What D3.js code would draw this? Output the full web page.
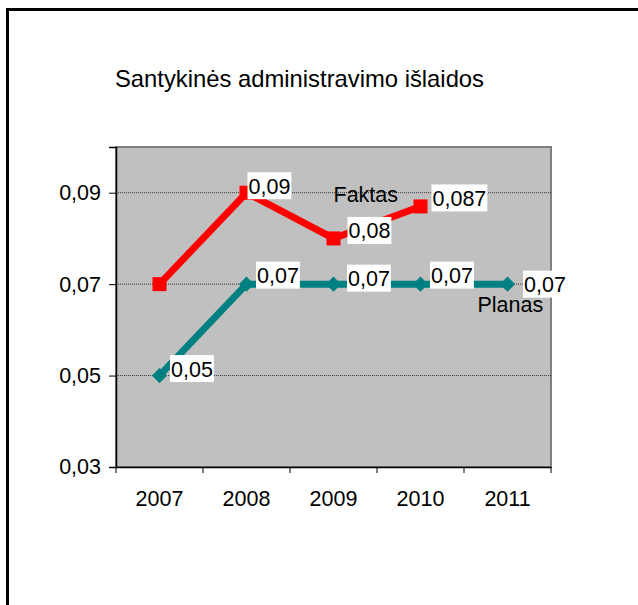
<!DOCTYPE html>
<html><head><meta charset="utf-8">
<script src="https://cdn.jsdelivr.net/npm/d3@7/dist/d3.min.js"></script>
<style>
html,body{margin:0;padding:0;background:#fff;overflow:hidden}
text{font-family:Arial,"Liberation Sans",sans-serif;fill:#000}
</style></head>
<body>
<svg id="c" width="638" height="605"></svg>
<script>
const title = "Santykinės administravimo išlaidos";
const years = ["2007","2008","2009","2010","2011"];
const faktas = [0.07, 0.09, 0.08, 0.087, null];
const planas = [0.05, 0.07, 0.07, 0.07, 0.07];
const faktasLabels = [null, "0,09", "0,08", "0,087", null];
const planasLabels = ["0,05", "0,07", "0,07", "0,07", "0,07"];
const yTicks = [0.03, 0.05, 0.07, 0.09];
const yTickLabels = ["0,03", "0,05", "0,07", "0,09"];
const seriesNames = ["Faktas", "Planas"];

// layout nudges for labels (dx from point to box left, dy of box centre)
const faktasNudge = [null, [1,-7], [14,-8], [11,-8.5], null];
const planasNudge = [[10.5,-7],[9.5,-9],[13.5,-6],[9.5,-9],[15.5,0]];

const svg = d3.select("#c");
const fs = 21.5;
const FF = "Arial, 'Liberation Sans', sans-serif";

// outer frame
svg.append("rect").attr("x",7.5).attr("y",9.5).attr("width",800).attr("height",800)
  .attr("fill","none").attr("stroke","#000").attr("stroke-width",3);

const L=116, R=551, T=147, B=467;
const x = d3.scaleBand().domain(years).range([L,R]);
const y = d3.scaleLinear().domain([0.03,0.10]).range([B,T]);
const cx = d => x(d)+x.bandwidth()/2;

// title
svg.append("text").attr("x",115).attr("y",87).attr("font-size",23.8).text(title);

// plot area
svg.append("rect").attr("x",L).attr("y",T).attr("width",R-L).attr("height",B-T)
  .attr("fill","#C0C0C0").attr("stroke","#808080").attr("stroke-width",2);

// gridlines
svg.append("g").selectAll("line").data(yTicks.filter(v=>v>0.03)).join("line")
  .attr("x1",L).attr("x2",R).attr("y1",d=>y(d)).attr("y2",d=>y(d))
  .attr("stroke","#333").attr("stroke-width",1).attr("stroke-dasharray","1,1");

// y axis
const yAxis = d3.axisLeft(y).tickValues(yTicks).tickSize(7).tickPadding(8)
  .tickFormat((d,i)=>yTickLabels[i]);
const gy = svg.append("g").attr("transform",`translate(${L},0)`).call(yAxis);
gy.select(".domain").attr("stroke","#000").attr("stroke-width",1.5);
gy.selectAll(".tick line").attr("stroke","#000");
gy.selectAll(".tick text").attr("font-size",fs).attr("font-family",FF).attr("fill","#000");

// x axis
const xAxis = d3.axisBottom(x).tickSize(0).tickPadding(24);
const gx = svg.append("g").attr("transform",`translate(0,${B})`).call(xAxis);
gx.select(".domain").attr("stroke","#000").attr("stroke-width",1.5);
gx.selectAll(".tick text").attr("font-size",fs).attr("font-family",FF).attr("fill","#000");
// category boundary ticks
const bounds = years.map(d=>x(d)).concat([R]);
svg.append("g").selectAll("line").data(bounds).join("line")
  .attr("x1",d=>d).attr("x2",d=>d).attr("y1",B).attr("y2",B+6)
  .attr("stroke","#000").attr("stroke-width",1);

// lines
const line = d3.line().defined(d=>d.v!=null).x(d=>cx(d.k)).y(d=>y(d.v));
const fData = years.map((k,i)=>({k,v:faktas[i]}));
const pData = years.map((k,i)=>({k,v:planas[i]}));

svg.append("path").datum(pData).attr("d",line).attr("fill","none")
  .attr("stroke","#008080").attr("stroke-width",7).attr("stroke-linejoin","miter");
svg.append("path").datum(fData).attr("d",line).attr("fill","none")
  .attr("stroke","#FF0000").attr("stroke-width",7).attr("stroke-linejoin","miter");

// markers
svg.append("g").selectAll("path").data(pData.filter(d=>d.v!=null)).join("path")
  .attr("d",d3.symbol(d3.symbolSquare,115))
  .attr("transform",d=>`translate(${cx(d.k)},${y(d.v)}) rotate(45)`)
  .attr("fill","#008080");
svg.append("g").selectAll("rect").data(fData.filter(d=>d.v!=null)).join("rect")
  .attr("x",d=>cx(d.k)-7).attr("y",d=>y(d.v)-7).attr("width",14).attr("height",14)
  .attr("fill","#FF0000");

// data labels
function labels(data, texts, nudge){
  data.forEach((d,i)=>{
    if(texts[i]==null) return;
    const px=cx(d.k), py=y(d.v);
    const g=svg.append("g");
    const t=g.append("text").attr("font-size",fs).attr("dominant-baseline","central")
      .attr("x",px+nudge[i][0]+1).attr("y",py+nudge[i][1]+1).text(texts[i]);
    const bb=t.node().getBBox();
    g.insert("rect","text").attr("x",bb.x-1).attr("y",py+nudge[i][1]-13.5)
      .attr("width",bb.width+2).attr("height",27).attr("fill","#fff");
  });
}
labels(pData, planasLabels, planasNudge);
labels(fData, faktasLabels, faktasNudge);

// series name labels
svg.append("text").attr("x",cx("2009")).attr("y",y(0.09)+9).attr("font-size",fs).text(seriesNames[0]);
svg.append("text").attr("x",cx("2011")-30).attr("y",y(0.07)+28).attr("font-size",fs).text(seriesNames[1]);
</script>
</body></html>
